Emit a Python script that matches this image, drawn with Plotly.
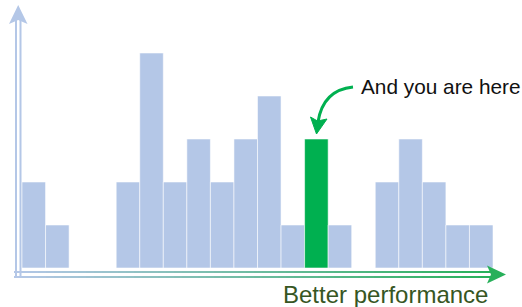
import plotly.graph_objects as go

# ---- data ----
bins = list(range(20))
counts = [2, 1, 0, 0, 2, 5, 2, 3, 2, 3, 4, 1, 3, 1, 0, 2, 3, 2, 1, 1]
highlight_bin = 12
annotation_text = "And you are here"
axis_label = "Better performance"

W, H = 522, 307
BLUE = "#B4C7E7"
GREEN = "#00B050"

colors = [GREEN if b == highlight_bin else BLUE for b in bins]

fig = go.Figure()
fig.add_trace(go.Bar(
    x=bins, y=counts, width=1,
    marker=dict(color=colors, line=dict(color="rgba(255,255,255,0.55)", width=1)),
    hoverinfo="skip",
))

def px(x):
    return x / W

def py(y):
    return 1 - y / H

shapes = []
# vertical double arrow line (light blue)
for xv in (16, 20.5):
    shapes.append(dict(type="line", xref="paper", yref="paper",
                       x0=px(xv), x1=px(xv), y0=py(277), y1=py(18),
                       line=dict(color=BLUE, width=2)))
shapes.append(dict(type="path", xref="paper", yref="paper",
                   path=f"M {px(18.2)},{py(5)} L {px(27.5)},{py(24)} L {px(18.2)},{py(20)} L {px(9)},{py(24)} Z",
                   fillcolor=BLUE, line=dict(width=0)))

# horizontal double arrow line with blue->green gradient
c0 = (180, 199, 231)
c1 = (40, 176, 90)
N = 60
x_start, x_end = 14, 494
for i in range(N):
    t = i / (N - 1)
    c = tuple(int(round(c0[k] + (c1[k] - c0[k]) * t)) for k in range(3))
    xa = x_start + (x_end - x_start) * i / N
    xb = x_start + (x_end - x_start) * (i + 1) / N + 0.5
    for yv in (272, 277):
        shapes.append(dict(type="line", xref="paper", yref="paper",
                           x0=px(xa), x1=px(xb), y0=py(yv), y1=py(yv),
                           line=dict(color=f"rgb{c}", width=2)))
shapes.append(dict(type="path", xref="paper", yref="paper",
                   path=f"M {px(506)},{py(274.5)} L {px(487)},{py(265.5)} L {px(491)},{py(274.5)} L {px(487)},{py(283.5)} Z",
                   fillcolor="rgb(40,176,90)", line=dict(width=0)))

# curved pointer arrow
shapes.append(dict(type="path", xref="paper", yref="paper",
                   path=f"M {px(353)},{py(87)} Q {px(323)},{py(90)} {px(318)},{py(122)}",
                   line=dict(color=GREEN, width=3)))
shapes.append(dict(type="path", xref="paper", yref="paper",
                   path=f"M {px(316.5)},{py(134)} L {px(310.5)},{py(117)} L {px(317.5)},{py(121)} L {px(327)},{py(119)} Z",
                   fillcolor=GREEN, line=dict(color=GREEN, width=1)))

annotations = [
    dict(xref="paper", yref="paper", x=px(359), y=py(86), xanchor="left", yanchor="middle",
         text=annotation_text, showarrow=False,
         font=dict(family="Liberation Sans, Arial, sans-serif", size=20.8, color="#111111")),
    dict(xref="paper", yref="paper", x=px(385), y=py(294), xanchor="center", yanchor="middle",
         text=axis_label, showarrow=False,
         font=dict(family="Liberation Sans, Arial, sans-serif", size=24, color="#375623")),
]

scale_x = 471 / 20.0
scale_y = 43.0
fig.update_layout(
    width=W, height=H,
    margin=dict(l=0, r=0, t=0, b=0),
    paper_bgcolor="white", plot_bgcolor="white",
    showlegend=False, bargap=0,
    xaxis=dict(range=[-0.5 - 22 / scale_x, 19.5 + (W - 493) / scale_x],
               visible=False, fixedrange=True),
    yaxis=dict(range=[-(H - 268) / scale_y, 268 / scale_y],
               visible=False, fixedrange=True),
    shapes=shapes,
    annotations=annotations,
)

fig.write_html(
    "out.html",
    config={"displayModeBar": False, "staticPlot": True},
    post_script="document.body.style.margin='0';document.body.style.overflow='hidden';",
)
